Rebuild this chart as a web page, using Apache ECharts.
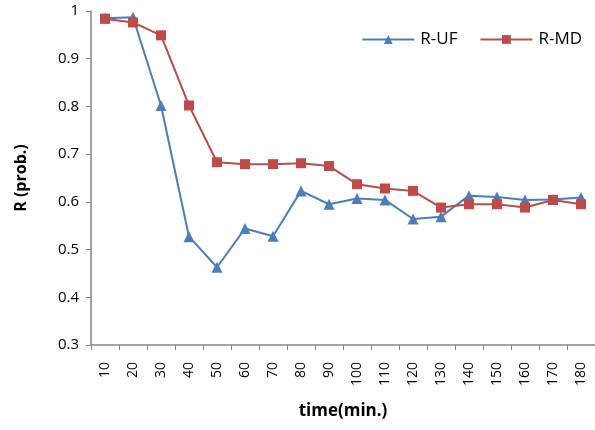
<!DOCTYPE html>
<html><head><meta charset="utf-8">
<script src="https://cdn.jsdelivr.net/npm/echarts@6/dist/echarts.min.js"></script>
<style>html,body{margin:0;padding:0;background:#fff}#c{width:595px;height:430px}</style>
</head><body><div id="c"></div>
<script>
var categories = ['10','20','30','40','50','60','70','80','90','100','110','120','130','140','150','160','170','180'];
var rUF = [0.985,0.987,0.802,0.527,0.463,0.544,0.528,0.623,0.595,0.607,0.604,0.564,0.569,0.613,0.610,0.604,0.605,0.609];
var rMD = [0.984,0.976,0.949,0.802,0.683,0.679,0.679,0.681,0.675,0.637,0.628,0.623,0.588,0.595,0.595,0.588,0.604,0.595];
var yTicks = [0.3,0.4,0.5,0.6,0.7,0.8,0.9,1];

var font = 'Open Sans, Liberation Sans, sans-serif';
var axisCol = '#868686';
var chart = echarts.init(document.getElementById('c'));
chart.setOption({
  animation: false,
  grid: {left: 91, top: 11, width: 509, height: 334, containLabel: false},
  legend: {
    top: 26, right: 8, itemWidth: 52, itemHeight: 11, itemGap: 22,
    textStyle: {fontFamily: font, fontSize: 17, color: '#000', padding: [0, 0, 0, 1]},
    data: ['R-UF', 'R-MD']
  },
  xAxis: {
    type: 'category', data: categories, boundaryGap: true,
    name: 'time(min.)', nameLocation: 'middle', nameGap: 58,
    nameTextStyle: {fontFamily: font, fontSize: 17, fontWeight: 'bold', color: '#000'},
    axisLine: {lineStyle: {color: axisCol, width: 1.5}},
    axisTick: {show: true, alignWithLabel: false, length: 5, lineStyle: {color: axisCol}},
    axisLabel: {rotate: 90, fontFamily: font, fontSize: 14, color: '#000', margin: 17}
  },
  yAxis: {
    type: 'value', min: 0.3, max: 1, interval: 0.1,
    name: 'R (prob.)', nameLocation: 'middle', nameGap: 62, nameRotate: 90,
    nameTextStyle: {fontFamily: font, fontSize: 16, fontWeight: 'bold', color: '#000'},
    axisLine: {show: true, lineStyle: {color: axisCol, width: 1.5}},
    axisTick: {show: true, length: 5, lineStyle: {color: axisCol}},
    splitLine: {show: false},
    axisLabel: {fontFamily: font, fontSize: 15, color: '#000', margin: 12,
      formatter: function(v){ return yTicks.indexOf(Math.round(v*10)/10) >= 0 ? String(Math.round(v*10)/10) : ''; }}
  },
  series: [
    {name: 'R-UF', type: 'line', data: rUF, symbol: 'triangle', symbolSize: 11,
     itemStyle: {color: '#4a7ebb'}, lineStyle: {color: '#4a7ebb', width: 2}},
    {name: 'R-MD', type: 'line', data: rMD, symbol: 'rect', symbolSize: 10,
     itemStyle: {color: '#be4b48'}, lineStyle: {color: '#be4b48', width: 2}}
  ]
});
</script></body></html>
